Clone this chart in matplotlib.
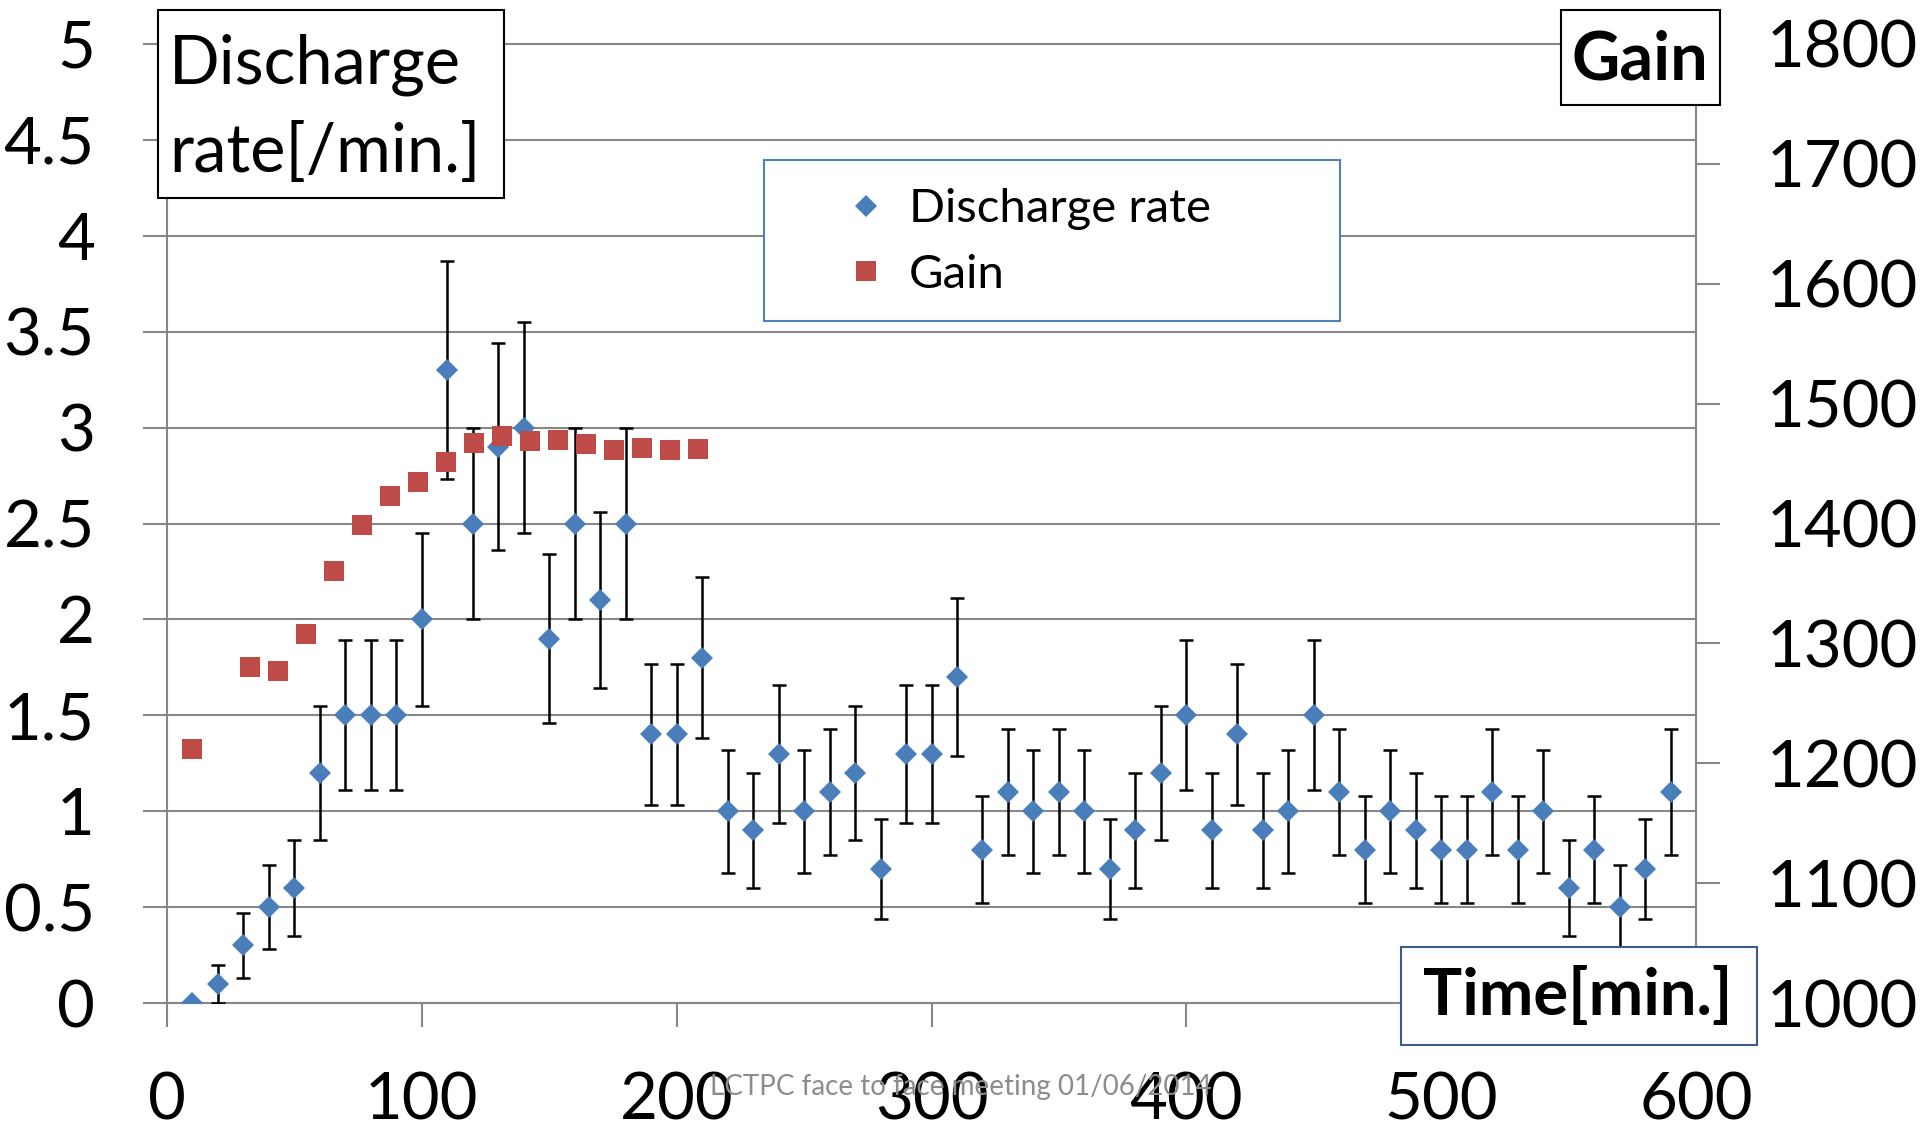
import matplotlib.pyplot as plt
from matplotlib.patches import Rectangle
from matplotlib.ticker import FuncFormatter

plt.rcParams["font.family"] = ["Lato", "DejaVu Sans"]

# discharge rate measured every 10 min
time_min = [10, 20, 30, 40, 50, 60, 70, 80, 90, 100,
            110, 120, 130, 140, 150, 160, 170, 180, 190, 200,
            210, 220, 230, 240, 250, 260, 270, 280, 290, 300,
            310, 320, 330, 340, 350, 360, 370, 380, 390, 400,
            410, 420, 430, 440, 450, 460, 470, 480, 490, 500,
            510, 520, 530, 540, 550, 560, 570, 580, 590]
rate = [0.0, 0.1, 0.3, 0.5, 0.6, 1.2, 1.5, 1.5, 1.5, 2.0,
        3.3, 2.5, 2.9, 3.0, 1.9, 2.5, 2.1, 2.5, 1.4, 1.4,
        1.8, 1.0, 0.9, 1.3, 1.0, 1.1, 1.2, 0.7, 1.3, 1.3,
        1.7, 0.8, 1.1, 1.0, 1.1, 1.0, 0.7, 0.9, 1.2, 1.5,
        0.9, 1.4, 0.9, 1.0, 1.5, 1.1, 0.8, 1.0, 0.9, 0.8,
        0.8, 1.1, 0.8, 1.0, 0.6, 0.8, 0.5, 0.7, 1.1]
rate_err = [0.0, 0.10, 0.17, 0.22, 0.25, 0.35, 0.39, 0.39, 0.39, 0.45,
            0.57, 0.50, 0.54, 0.55, 0.44, 0.50, 0.46, 0.50, 0.37, 0.37,
            0.42, 0.32, 0.30, 0.36, 0.32, 0.33, 0.35, 0.26, 0.36, 0.36,
            0.41, 0.28, 0.33, 0.32, 0.33, 0.32, 0.26, 0.30, 0.35, 0.39,
            0.30, 0.37, 0.30, 0.32, 0.39, 0.33, 0.28, 0.32, 0.30, 0.28,
            0.28, 0.33, 0.28, 0.32, 0.25, 0.28, 0.22, 0.26, 0.33]

# gain
gain_time = [10, 32.5, 43.5, 54.5, 65.5, 76.5, 87.5, 98.5, 109.5,
             120.5, 131.5, 142.5, 153.5, 164.5, 175.5, 186.5, 197.5, 208.5]
gain = [1212, 1280, 1277, 1308, 1360, 1399, 1423, 1435, 1451,
        1467, 1473, 1469, 1470, 1466, 1461, 1463, 1461, 1462]

x_ticks = [0, 100, 200, 300, 400, 500, 600]
rate_ticks = [0, 0.5, 1, 1.5, 2, 2.5, 3, 3.5, 4, 4.5, 5]
gain_ticks = [1000, 1100, 1200, 1300, 1400, 1500, 1600, 1700, 1800]

BLUE = "#4a7ebb"
RED = "#be4b48"
GRID = "#878787"
W, H = 1920, 1127


def fx(px):
    return px / W


def fy(py):
    return 1 - py / H


def box(x0, y0, x1, y1, edge):
    fig.patches.append(Rectangle((fx(x0), fy(y1)), fx(x1) - fx(x0), fy(y0) - fy(y1),
                                 transform=fig.transFigure, facecolor="white",
                                 edgecolor=edge, lw=1.5, zorder=2))


fig = plt.figure(figsize=(19.2, 11.27), dpi=100)
ax = fig.add_axes([fx(167), fy(1003), fx(1696) - fx(167), fy(44) - fy(1003)])
ax2 = ax.twinx()

eb = ax.errorbar(time_min, rate, yerr=rate_err, fmt="D", ms=11, color=BLUE,
                 ecolor="black", elinewidth=1.8, capsize=5, capthick=1.8, zorder=3)
eb.lines[0].set_markeredgewidth(0)
gl, = ax2.plot(gain_time, gain, "s", ms=14.5, color=RED, mew=0)

ax.set_xlim(0, 600)
ax.set_ylim(0, 5)
ax2.set_ylim(1000, 1800)
ax.set_xticks(x_ticks)
ax.set_yticks(rate_ticks)
ax2.set_yticks(gain_ticks)
ax.yaxis.set_major_formatter(FuncFormatter(lambda v, p: f"{v:g}"))

ax.grid(axis="y", color=GRID, lw=1.5)
ax.set_axisbelow(True)
for s in ax.spines.values():
    s.set_color(GRID)
    s.set_linewidth(1.5)
for s in ax2.spines.values():
    s.set_visible(False)

ax.tick_params(axis="both", direction="out", length=17, width=1.5, color=GRID,
               labelsize=47)
ax.tick_params(axis="y", pad=35)
ax.tick_params(axis="x", pad=32)
ax2.tick_params(axis="y", direction="out", length=17, width=1.5, color=GRID,
                labelsize=47, pad=34)

# label boxes
box(158, 10, 504, 198, "black")
fig.text(fx(169), fy(109), "Discharge\nrate[/min.]", fontsize=48, ha="left",
         va="center", linespacing=1.52, zorder=3)
box(1561, 10, 1720, 105, "black")
fig.text(fx(1640), fy(60), "Gain", fontsize=48, fontweight="bold",
         ha="center", va="center", zorder=3)
box(1401, 947, 1757, 1045, "#385d8a")
fig.text(fx(1578), fy(996), "Time[min.]", fontsize=47, fontweight="bold",
         ha="center", va="center", zorder=3)

# legend
box(764, 160, 1340, 321, "#4f81bd")
fig.legend([eb.lines[0], gl], ["Discharge rate", "Gain"], loc="center left",
           bbox_to_anchor=(fx(842), fy(242)), frameon=False, fontsize=34,
           handlelength=1.0, handletextpad=0.42, labelspacing=0.5,
           borderpad=0, borderaxespad=0)

fig.text(fx(961), fy(1087), "LCTPC face to face meeting 01/06/2014",
         color="#8c8c8c", fontsize=20, ha="center", va="center", zorder=10)

fig.savefig("out.png", dpi=100)
